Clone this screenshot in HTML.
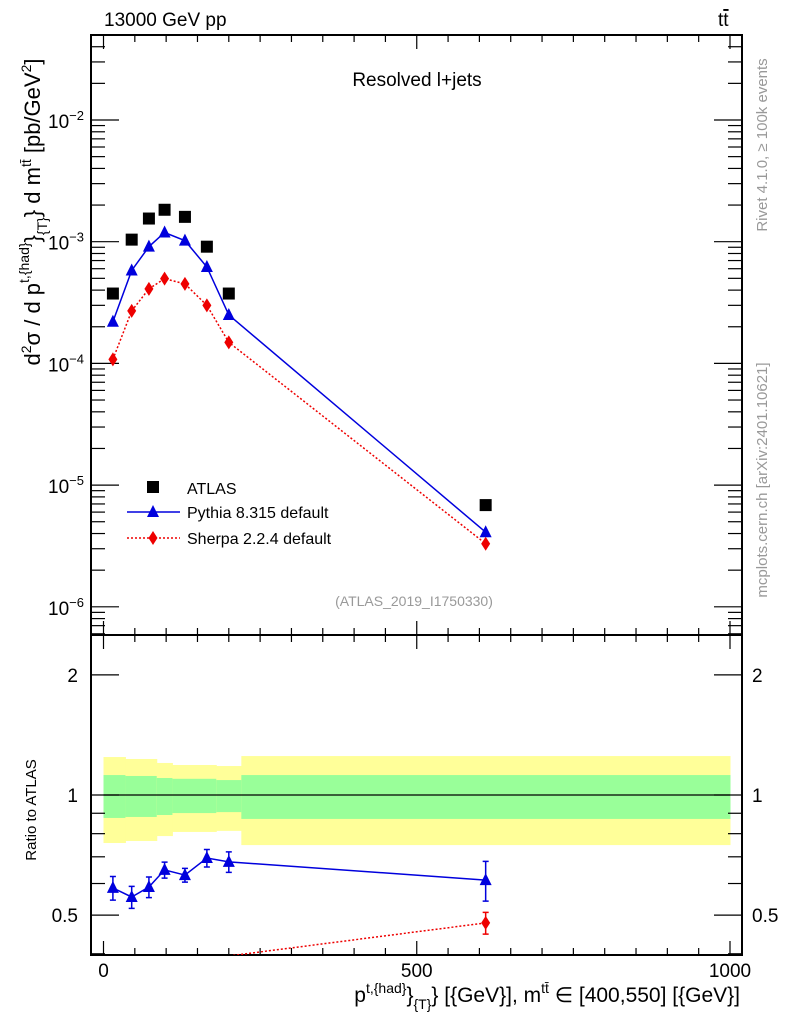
<!DOCTYPE html>
<html><head><meta charset="utf-8"><style>
html,body{margin:0;padding:0;background:#fff;overflow:hidden;}
svg{display:block;font-family:"Liberation Sans",sans-serif;}
</style></head><body>
<svg id="c" width="786" height="1024" viewBox="0 0 786 1024"></svg>
<script>
const binCenters=[15,45,72.5,97.5,130,165,200,610];
const atlasVals=[3.75e-4,1.04e-3,1.55e-3,1.83e-3,1.6e-3,9.1e-4,3.75e-4,6.85e-6];
const pythiaVals=[2.2e-4,5.8e-4,9.1e-4,1.19e-3,1.02e-3,6.2e-4,2.5e-4,4.1e-6];
const sherpaVals=[1.08e-4,2.7e-4,4.1e-4,4.97e-4,4.5e-4,3.0e-4,1.49e-4,3.3e-6];
const pythiaRatio=[0.585,0.555,0.588,0.649,0.63,0.695,0.68,0.612];
const pythiaRatioErr=[0.04,0.035,0.035,0.03,0.025,0.035,0.04,0.07];
const sherpaRatio=[0.29,0.26,0.265,0.27,0.28,0.33,0.395,0.478];
const sherpaRatioErr=[0.02,0.02,0.02,0.02,0.02,0.02,0.02,0.03];
const bandEdges=[0,35,85,110,180,220,1000];
const yellowHi=[1.245,1.231,1.203,1.189,1.182,1.252];
const yellowLo=[0.758,0.767,0.789,0.808,0.813,0.749];
const greenHi=[1.122,1.116,1.103,1.098,1.090,1.122];
const greenLo=[0.876,0.881,0.891,0.901,0.906,0.871];
const xTicks=[0,500,1000];
const yTicksExp=[-2,-3,-4,-5,-6];
const rTicks=[2,1,0.5];

const NS="http://www.w3.org/2000/svg";
const svg=document.getElementById('c');
const L=91,R=742,T=35,M=635,B=955;
const X=v=>103.5+v*0.6265;
const Y=v=>120-(Math.log10(v)+2)*121.7;
const YR=v=>795-Math.log10(v)*399;
function el(tag,attrs,parent){const e=document.createElementNS(NS,tag);for(const k in attrs)e.setAttribute(k,attrs[k]);(parent||svg).appendChild(e);return e;}
function txt(s,x,y,size,attrs,parent){const t=el('text',Object.assign({x:x,y:y,'font-size':size},attrs||{}),parent);t.innerHTML=s;return t;}

const defs=el('defs',{});
const cp1=el('clipPath',{id:'cp1'},defs);el('rect',{x:L,y:T,width:R-L,height:M-T},cp1);
const cp2=el('clipPath',{id:'cp2'},defs);el('rect',{x:L,y:M,width:R-L,height:B-M},cp2);

const gb=el('g',{'clip-path':'url(#cp2)'});


for(let i=0;i<bandEdges.length-1;i++){
  const x0=X(bandEdges[i]),x1=X(bandEdges[i+1]);
  const y=el('rect',{x:x0,y:YR(yellowHi[i]),width:x1-x0+0.5,height:YR(yellowLo[i])-YR(yellowHi[i]),fill:'#ffff99'},gb);
  
  
  const g=el('rect',{x:x0,y:YR(greenHi[i]),width:x1-x0+0.5,height:YR(greenLo[i])-YR(greenHi[i]),fill:'#99ff99'},gb);
  
  
}
el('line',{x1:X(0),x2:X(1000),y1:YR(1),y2:YR(1),stroke:'#000','stroke-width':1.3},gb);

const f1=el('rect',{x:L,y:T,width:R-L,height:M-T,fill:'none',stroke:'#000','stroke-width':2});


const f2=el('rect',{x:L,y:M,width:R-L,height:B-M,fill:'none',stroke:'#000','stroke-width':2});



for(let v=0;v<=1000;v+=50){
  const major=v%500===0, len=major?14:7, x=X(v);
  el('line',{x1:x,x2:x,y1:T,y2:T+len,stroke:'#000','stroke-width':1.2});
  el('line',{x1:x,x2:x,y1:M,y2:M-len,stroke:'#000','stroke-width':1.2});
  el('line',{x1:x,x2:x,y1:M,y2:M+len,stroke:'#000','stroke-width':1.2});
  el('line',{x1:x,x2:x,y1:B,y2:B-len,stroke:'#000','stroke-width':1.2});
}
xTicks.forEach(v=>{const t=txt(String(v),X(v),977,19,{'text-anchor':'middle'});
  
  });

for(let e=-7;e<=-1;e++){for(let m=1;m<10;m++){const v=m*Math.pow(10,e);const y=Y(v);if(y<T||y>M)continue;
  const len=m===1?28:14;
  el('line',{x1:L,x2:L+len,y1:y,y2:y,stroke:'#000','stroke-width':1.2});
  el('line',{x1:R,x2:R-len,y1:y,y2:y,stroke:'#000','stroke-width':1.2});}}
yTicksExp.forEach(e=>{const t=txt('10<tspan dy="-8" font-size="13">'+e.toString().replace('-','−')+'</tspan>',84,Y(Math.pow(10,e))+8,19,{'text-anchor':'end'});
  
  });

[0.4,0.5,0.6,0.7,0.8,0.9,1,2].forEach(v=>{const y=YR(v);if(y<M||y>B)return;const len=(v===0.5||v===1||v===2)?28:14;
  el('line',{x1:L,x2:L+len,y1:y,y2:y,stroke:'#000','stroke-width':1.2});
  el('line',{x1:R,x2:R-len,y1:y,y2:y,stroke:'#000','stroke-width':1.2});});
rTicks.forEach(v=>{const t1=txt(String(v),78,YR(v)+7,19,{'text-anchor':'end'});
  
  
  const t2=txt(String(v),752,YR(v)+7,19,{});
  
  });

const g1=el('g',{'clip-path':'url(#cp1)'});
function tri(x,y,col,p){return el('polygon',{points:`${x},${y-7} ${x-6},${y+5} ${x+6},${y+5}`,fill:col},p);}
function dia(x,y,col,p){return el('polygon',{points:`${x},${y-7} ${x-4.5},${y} ${x},${y+7} ${x+4.5},${y}`,fill:col},p);}
const pl=el('polyline',{points:binCenters.map((c,i)=>X(c)+','+Y(pythiaVals[i])).join(' '),fill:'none',stroke:'#0000dd','stroke-width':1.5},g1);


const sl=el('polyline',{points:binCenters.map((c,i)=>X(c)+','+Y(sherpaVals[i])).join(' '),fill:'none',stroke:'#ee0000','stroke-width':1.5,'stroke-dasharray':'2,2'},g1);


binCenters.forEach((c,i)=>{
  const a=el('rect',{x:X(c)-6,y:Y(atlasVals[i])-6,width:12,height:12,fill:'#000'},g1);
  
  
  const p=tri(X(c),Y(pythiaVals[i]),'#0000dd',g1);
  
  
  const s=dia(X(c),Y(sherpaVals[i]),'#ee0000',g1);
  
  
});

const g2=el('g',{'clip-path':'url(#cp2)'});
const rpl=el('polyline',{points:binCenters.map((c,i)=>X(c)+','+YR(pythiaRatio[i])).join(' '),fill:'none',stroke:'#0000dd','stroke-width':1.5},g2);


const rsl=el('polyline',{points:binCenters.map((c,i)=>X(c)+','+YR(sherpaRatio[i])).join(' '),fill:'none',stroke:'#ee0000','stroke-width':1.5,'stroke-dasharray':'2,2'},g2);


binCenters.forEach((c,i)=>{
  const x=X(c);
  const y0=YR(pythiaRatio[i]+pythiaRatioErr[i]),y1=YR(pythiaRatio[i]-pythiaRatioErr[i]);
  el('path',{d:`M${x},${y0}V${y1}M${x-3},${y0}H${x+3}M${x-3},${y1}H${x+3}`,stroke:'#0000dd','stroke-width':1.5,fill:'none'},g2);
  const p=tri(x,YR(pythiaRatio[i]),'#0000dd',g2);
  
  
  const s0=YR(sherpaRatio[i]+sherpaRatioErr[i]),s1=YR(sherpaRatio[i]-sherpaRatioErr[i]);
  if(YR(sherpaRatio[i])<B){
    el('path',{d:`M${x},${s0}V${s1}M${x-3},${s0}H${x+3}M${x-3},${s1}H${x+3}`,stroke:'#ee0000','stroke-width':1.5,fill:'none'},g2);
    const s=dia(x,YR(sherpaRatio[i]),'#ee0000',g2);
    
    
  }
});

const lg=el('g',{});


el('rect',{x:147,y:481,width:12,height:12,fill:'#000'},lg);
txt('ATLAS',187,494,16,{},lg);
el('line',{x1:127,x2:180,y1:512,y2:512,stroke:'#0000dd','stroke-width':1.5},lg);
tri(153,512,'#0000dd',lg);
txt('Pythia 8.315 default',187,518,16,{},lg);
el('line',{x1:127,x2:180,y1:538,y2:538,stroke:'#ee0000','stroke-width':1.5,'stroke-dasharray':'2,2'},lg);
dia(153,538,'#ee0000',lg);
txt('Sherpa 2.2.4 default',187,544,16,{},lg);

let t;
t=txt('13000 GeV pp',104,26,19,{});
t=txt('t<tspan text-decoration="overline">t</tspan>',718,26,19,{});
t=txt('Resolved l+jets',417,86,19,{'text-anchor':'middle'});
t=txt('(ATLAS_2019_I1750330)',414,606,14,{'text-anchor':'middle',fill:'#999'});
t=txt('Rivet 4.1.0, ≥ 100k events',0,0,15,{fill:'#999','text-anchor':'middle',transform:'translate(767,145) rotate(-90)'});
t=txt('mcplots.cern.ch [arXiv:2401.10621]',0,0,15,{fill:'#999','text-anchor':'middle',transform:'translate(767,480) rotate(-90)'});
t=txt('d<tspan dy="-9" font-size="14">2</tspan><tspan dy="9">σ  /  d p</tspan><tspan dy="-11" font-size="14">t,{had}</tspan><tspan dy="11">}</tspan><tspan dy="7" font-size="14">{T}</tspan><tspan dy="-7">} d m</tspan><tspan dy="-9" font-size="14">tt̄</tspan><tspan dy="9"> [pb/GeV</tspan><tspan dy="-9" font-size="14">2</tspan><tspan dy="9">]</tspan>',0,0,22,{'text-anchor':'middle',transform:'translate(40,212) rotate(-90)'});

t=txt('Ratio to ATLAS',0,0,15,{'text-anchor':'middle',transform:'translate(36,810) rotate(-90)'});
t=txt('p<tspan dy="-9" font-size="14">t,{had}</tspan><tspan dy="9">}</tspan><tspan dy="7" font-size="14">{T}</tspan><tspan dy="-7">} [{GeV}], m</tspan><tspan dy="-9" font-size="14">tt̄</tspan><tspan dy="9"> ∈ [400,550] [{GeV}]</tspan>',740,1002,21,{'text-anchor':'end'});

</script>
</body></html>
